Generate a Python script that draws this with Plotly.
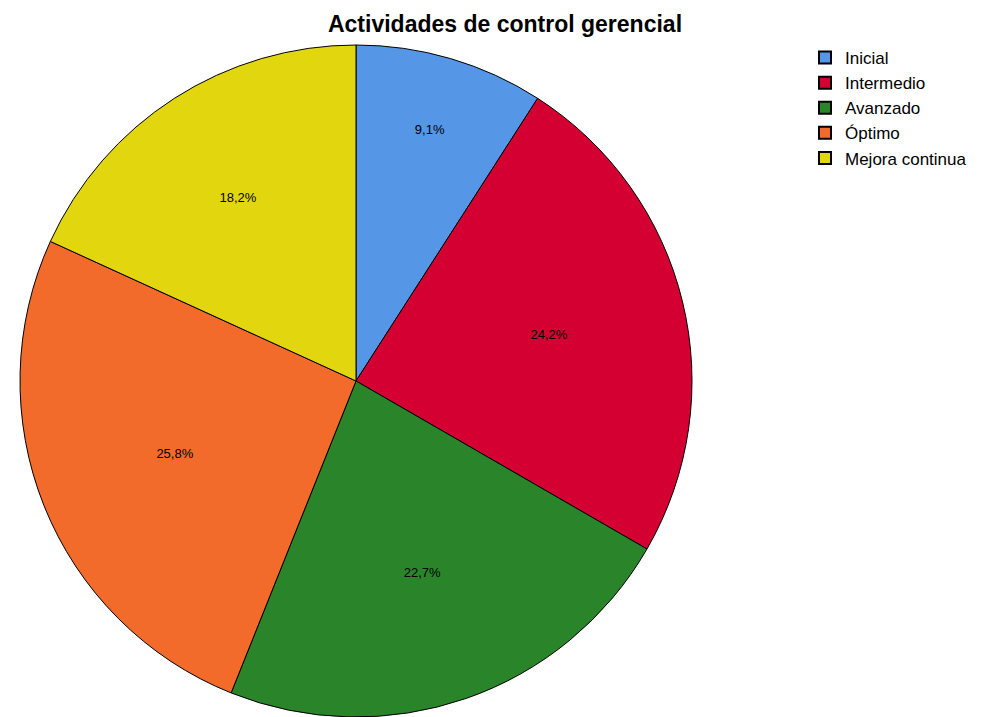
import plotly.graph_objects as go

categories = ["Inicial", "Intermedio", "Avanzado", "Óptimo", "Mejora continua"]
counts = [6, 16, 15, 17, 12]
colors = ["#5596E6", "#D40032", "#2A852A", "#F26B2A", "#E2D70F"]

total = sum(counts)
labels_txt = [f"{c / total * 100:.1f}%".replace(".", ",") for c in counts]

W, H = 987, 717
fig = go.Figure(go.Pie(
    labels=categories,
    values=counts,
    text=labels_txt,
    textinfo="text",
    textposition="inside",
    insidetextorientation="horizontal",
    textfont=dict(family="Liberation Sans, Arial", size=13, color="black"),
    marker=dict(colors=colors, line=dict(color="black", width=1)),
    sort=False,
    direction="clockwise",
    rotation=0,
    domain=dict(x=[6 / W, 690 / W], y=[8 / H, 1 - 37 / H]),
    hoverinfo="label+percent",
))

fig.update_layout(
    width=W, height=H,
    margin=dict(l=0, r=0, t=0, b=0),
    paper_bgcolor="white",
    title=dict(text="<b>Actividades de control gerencial</b>",
               x=497 / W, xanchor="center", y=1 - 16 / H, yanchor="middle",
               font=dict(family="Liberation Sans, Arial", size=23, color="black")),
    legend=dict(x=797 / W, y=1 - 32 / H, xanchor="left", yanchor="top",
                font=dict(family="Liberation Sans, Arial", size=17, color="black"),
                itemsizing="constant", tracegroupgap=0, itemwidth=30),
    uniformtext=dict(minsize=13, mode="show"),
)

fig.write_html("out.html")
